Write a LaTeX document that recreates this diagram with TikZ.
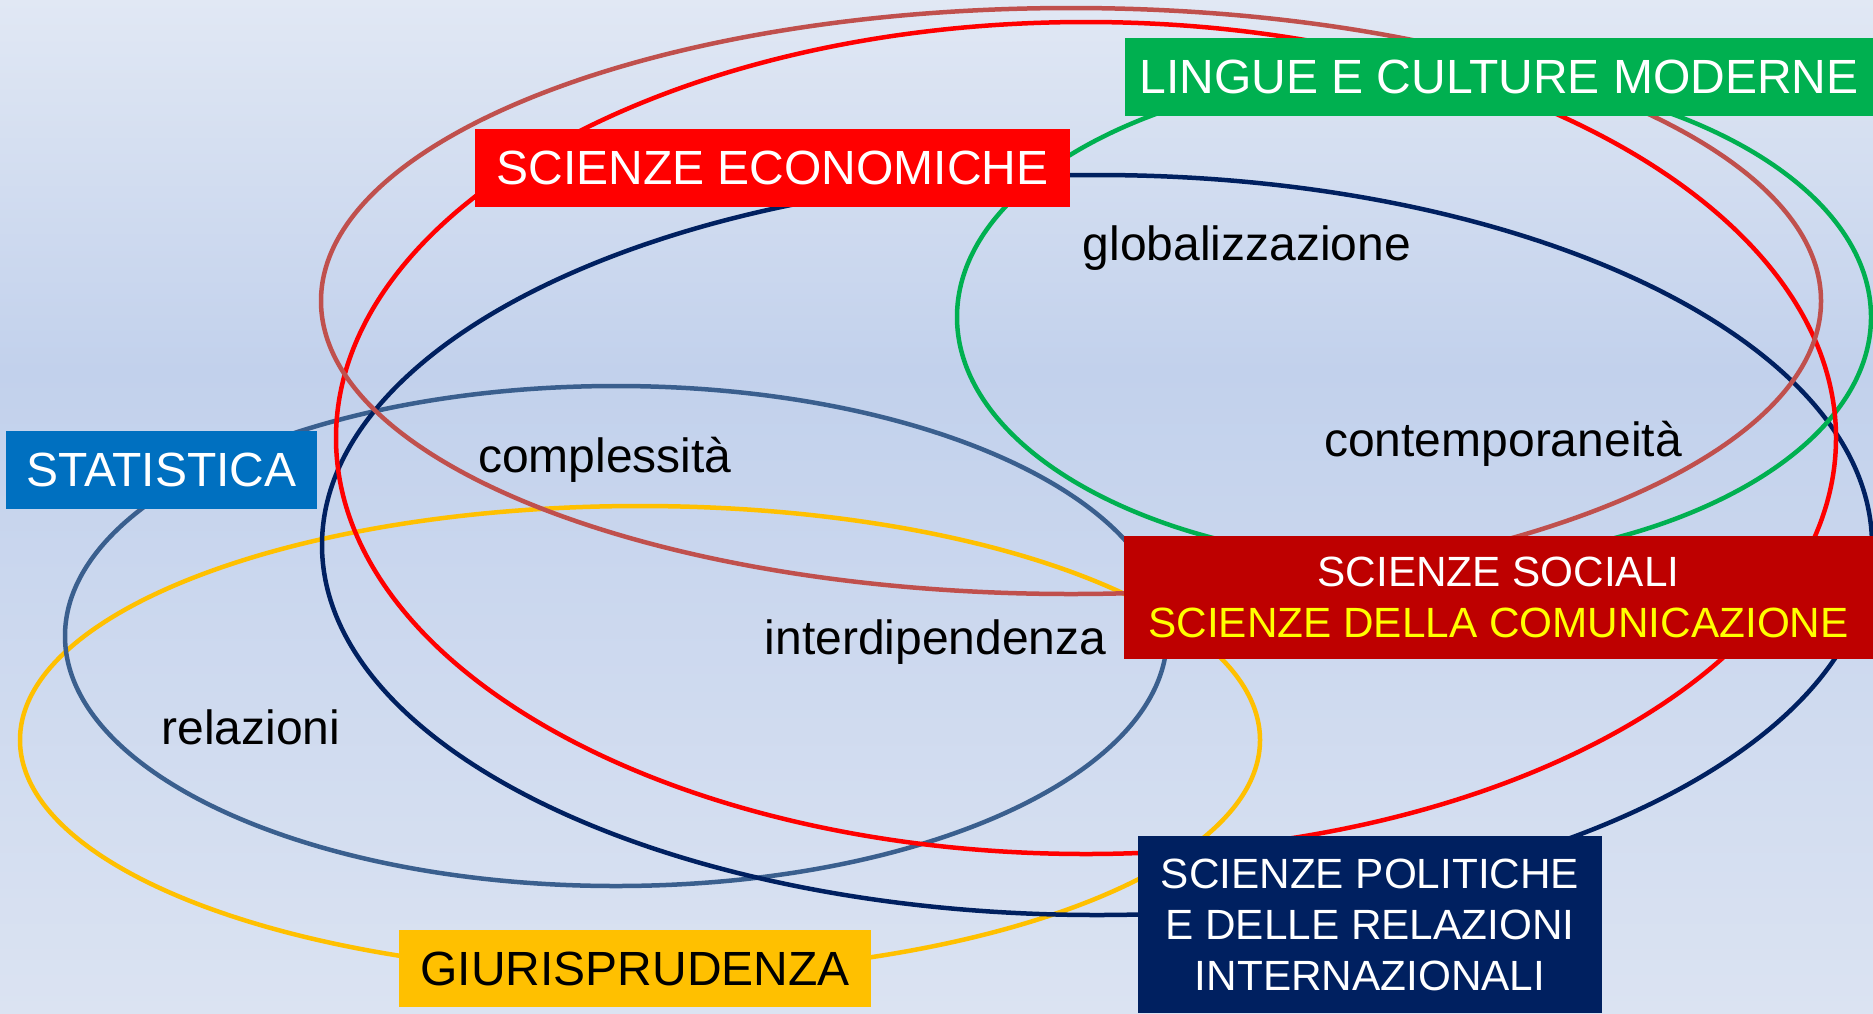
\documentclass[tikz,border=0pt]{standalone}
\usepackage{fontspec}
\setmainfont{Liberation Sans}
\definecolor{bgtop}{HTML}{E1E8F4}
\definecolor{bgmid}{HTML}{C2D1EC}
\definecolor{bgbot}{HTML}{DBE3F2}
\definecolor{cBrown}{HTML}{C0504D}
\definecolor{cRed}{HTML}{FF0000}
\definecolor{cGreen}{HTML}{00B050}
\definecolor{cNavy}{HTML}{002060}
\definecolor{cSteel}{HTML}{3A5F8E}
\definecolor{cGold}{HTML}{FFC000}
\definecolor{cBlue}{HTML}{0070C0}
\definecolor{cDarkRed}{HTML}{BE0000}
\definecolor{cYellow}{HTML}{FFFF00}
\begin{document}
\begin{tikzpicture}[x=1pt,y=-1pt,
  ring/.style={line width=4.5pt},
  box/.style={inner sep=0pt, outer sep=0pt, text=white, align=center},
  big/.style={font=\fontsize{48}{56}\selectfont},
  mid/.style={font=\fontsize{42.3}{51}\selectfont},
  word/.style={anchor=base, inner sep=0pt, text=black, font=\fontsize{48}{56}\selectfont}]
\useasboundingbox (0,0) rectangle (1873,1013);
\shade[top color=bgtop, bottom color=bgmid] (0,0) rectangle (1873,371);
\shade[top color=bgmid, bottom color=bgbot] (0,370) rectangle (1873,1013);

% ellipses
\draw[ring, cGold]  (640,740)  ellipse [x radius=620pt, y radius=234pt];
\draw[ring, cSteel] (616,636)  ellipse [x radius=551pt, y radius=250pt];
\draw[ring, cNavy]  (1097,545) ellipse [x radius=775pt, y radius=370pt];
\draw[ring, cGreen] (1414,317) ellipse [x radius=457pt, y radius=246pt];
\draw[ring, cRed]   (1086,438) ellipse [x radius=750pt, y radius=416pt];
\draw[ring, cBrown] (1071,301) ellipse [x radius=750pt, y radius=293pt];

% labels
\node[box, big, fill=cGreen, minimum width=748pt, minimum height=78pt] (lingue) at (1499,77) {LINGUE E CULTURE MODERNE};
\node[box, big, fill=cRed, minimum width=595pt, minimum height=78pt] (econ) at (772.5,168) {SCIENZE ECONOMICHE};
\node[box, big, fill=cBlue, minimum width=311pt, minimum height=78pt] (stat) at (161.5,470) {STATISTICA};
\node[box, mid, fill=cDarkRed, minimum width=749pt, minimum height=123pt] (soc) at (1498.5,597.5) {SCIENZE SOCIALI\\\textcolor{cYellow}{SCIENZE DELLA COMUNICAZIONE}};
\node[box, mid, fill=cNavy, minimum width=464pt, minimum height=177pt] (pol) at (1370,924.5) {SCIENZE POLITICHE\\E DELLE RELAZIONI\\INTERNAZIONALI};
\node[box, big, fill=cGold, text=black, minimum width=472pt, minimum height=77pt] (giur) at (635,968.5) {GIURISPRUDENZA};

% words
\node[word] (glob) at (1247,260) {globalizzazione};
\node[word] (cont) at (1503,456) {contemporaneità};
\node[word] (comp) at (605,472) {complessità};
\node[word] (inter) at (935.5,654) {interdipendenza};
\node[word] (rel) at (251,744) {relazioni};
\end{tikzpicture}
\end{document}
